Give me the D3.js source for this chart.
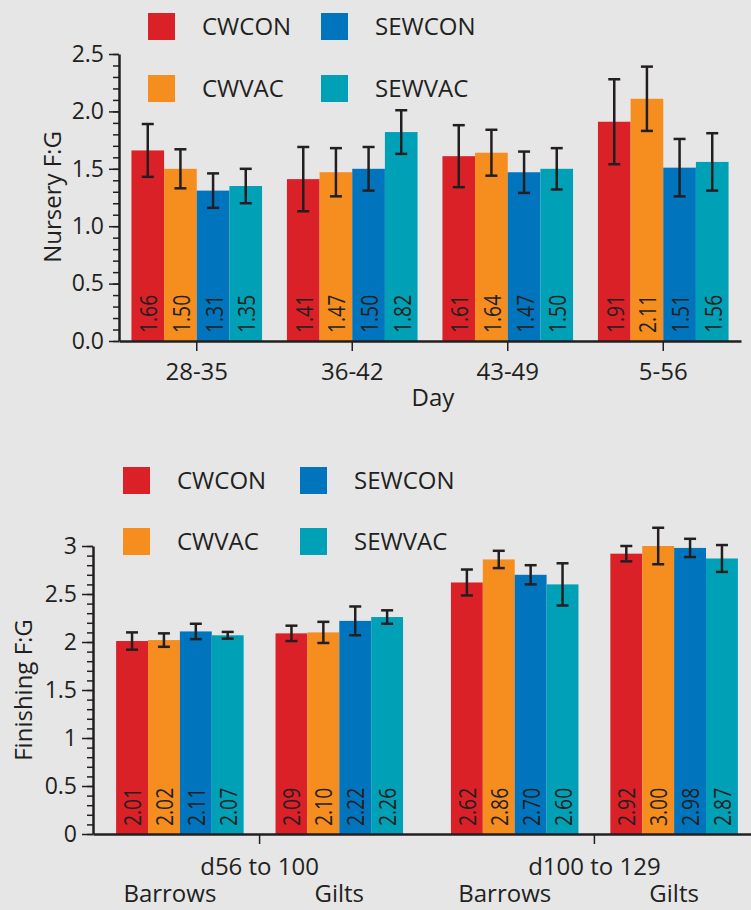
<!DOCTYPE html>
<html lang="en">
<head>
<meta charset="UTF-8">
<title>Nursery and Finishing F:G</title>
<script src="https://d3js.org/d3.v7.min.js"></script>
<style>
  body { margin: 0; background: #e6e6e6; font-family: "Open Sans", sans-serif; }
  svg { display: block; }
  text { fill: #231f20; }
  .axis path, .axis line { stroke: #231f20; }
  .axis .domain { stroke-width: 2.5; }
  .axis .tick line { stroke-width: 1.5; }
  .axis text { font-family: "Open Sans", sans-serif; fill: #231f20; }
</style>
</head>
<body>
<svg width="751" height="910"></svg>
<script>
// series / legend
const seriesNames = ["CWCON", "CWVAC", "SEWCON", "SEWVAC"];
const seriesColors = ["#da2128", "#f68d1f", "#0075be", "#00a1b6"];

// nursery chart (top)
const nurseryDays = ["28-35", "36-42", "43-49", "5-56"];
const nurseryCWCON  = [1.66, 1.41, 1.61, 1.91];
const nurseryCWVAC  = [1.50, 1.47, 1.64, 2.11];
const nurserySEWCON = [1.31, 1.50, 1.47, 1.51];
const nurserySEWVAC = [1.35, 1.82, 1.50, 1.56];
const nurseryErrCWCON  = [0.23, 0.28, 0.27, 0.37];
const nurseryErrCWVAC  = [0.17, 0.21, 0.20, 0.28];
const nurseryErrSEWCON = [0.15, 0.19, 0.18, 0.25];
const nurseryErrSEWVAC = [0.15, 0.19, 0.18, 0.25];
const nurseryTicks = [0, 0.5, 1.0, 1.5, 2.0, 2.5];

// finishing chart (bottom)
const finishPeriods = ["d56 to 100", "d100 to 129"];
const finishSexes = ["Barrows", "Gilts"];
const finishCWCON  = [2.01, 2.09, 2.62, 2.92];
const finishCWVAC  = [2.02, 2.10, 2.86, 3.00];
const finishSEWCON = [2.11, 2.22, 2.70, 2.98];
const finishSEWVAC = [2.07, 2.26, 2.60, 2.87];
const finishErrCWCON  = [0.09, 0.08, 0.135, 0.08];
const finishErrCWVAC  = [0.07, 0.11, 0.09, 0.19];
const finishErrSEWCON = [0.08, 0.15, 0.10, 0.095];
const finishErrSEWVAC = [0.035, 0.07, 0.22, 0.14];
const finishTicks = [0, 0.5, 1, 1.5, 2, 2.5, 3];

const svg = d3.select("svg");
const color = d3.scaleOrdinal().domain(seriesNames).range(seriesColors);

function legend(g, x1, x2, y1, y2) {
  const pos = [[x1, y1], [x1, y2], [x2, y1], [x2, y2]];
  seriesNames.forEach((s, i) => {
    g.append("rect").attr("x", pos[i][0]).attr("y", pos[i][1])
      .attr("width", 27).attr("height", 27).attr("fill", color(s));
    g.append("text").attr("x", pos[i][0] + 54).attr("y", pos[i][1] + 13.5)
      .attr("dy", "0.36em").attr("font-size", 24).text(s);
  });
}

function bars(g, rows, y, labelDx) {
  const base = y(0);
  rows.forEach(r => {
    g.append("rect").attr("x", r.x).attr("y", y(r.v))
      .attr("width", r.w).attr("height", base - y(r.v)).attr("fill", color(r.s));
  });
  rows.forEach(r => {
    const cx = r.x + r.w / 2;
    g.append("line").attr("x1", cx).attr("x2", cx)
      .attr("y1", y(r.v + r.e)).attr("y2", y(r.v - r.e))
      .attr("stroke", "#231f20").attr("stroke-width", 2.5);
    [r.v + r.e, r.v - r.e].forEach(t => {
      g.append("line").attr("x1", cx - 6).attr("x2", cx + 6)
        .attr("y1", y(t)).attr("y2", y(t))
        .attr("stroke", "#231f20").attr("stroke-width", 2.5);
    });
    // value label, rotated, a bit condensed
    g.append("text")
      .attr("transform", `translate(${cx + labelDx},${base - 8}) rotate(-90) scale(0.84,1)`)
      .attr("font-size", 23).text(r.v.toFixed(2));
  });
}

// ---------- top chart ----------
{
  const g = svg.append("g");
  legend(g, 148, 321, 13, 75);

  const y = d3.scaleLinear().domain([0, 2.5]).range([341, 54]);
  const x0 = d3.scaleBand().domain(nurseryDays).range([119, 741])
    .paddingInner(0.16).paddingOuter(0.08);
  const x1 = d3.scaleBand().domain(seriesNames).range([0, x0.bandwidth()]);

  const vals = [nurseryCWCON, nurseryCWVAC, nurserySEWCON, nurserySEWVAC];
  const errs = [nurseryErrCWCON, nurseryErrCWVAC, nurseryErrSEWCON, nurseryErrSEWVAC];
  const rows = [];
  nurseryDays.forEach((d, i) => seriesNames.forEach((s, j) => {
    rows.push({ s, v: vals[j][i], e: errs[j][i], x: x0(d) + x1(s), w: x1.bandwidth() });
  }));
  bars(g, rows, y, 9.5);

  // y axis minor + major
  g.append("g").attr("class", "axis").attr("transform", "translate(119,0)")
    .call(d3.axisLeft(y).tickValues(d3.range(0, 26).map(i => i / 10)).tickSize(6).tickFormat(""))
    .call(a => a.select(".domain").remove());
  g.append("g").attr("class", "axis").attr("transform", "translate(119,0)")
    .call(d3.axisLeft(y).tickValues(nurseryTicks).tickSize(10).tickSizeOuter(0)
      .tickPadding(5).tickFormat(d3.format(".1f")))
    .call(a => a.selectAll("text").attr("font-size", 23));

  g.append("g").attr("class", "axis").attr("transform", "translate(0,341)")
    .call(d3.axisBottom(x0).tickSize(10).tickSizeOuter(0).tickPadding(12))
    .call(a => a.selectAll(".tick line").attr("stroke", "#555"))
    .call(a => a.selectAll("text").attr("font-size", 24));

  g.append("text").attr("x", 433).attr("y", 406).attr("text-anchor", "middle")
    .attr("font-size", 24).text("Day");
  g.append("text").attr("transform", "translate(61,197) rotate(-90)")
    .attr("text-anchor", "middle").attr("font-size", 24).text("Nursery F:G");
}

// ---------- bottom chart ----------
{
  const g = svg.append("g");
  legend(g, 123, 300, 467, 528);

  const y = d3.scaleLinear().domain([0, 3]).range([834, 546]);
  const xP = d3.scaleBand().domain(finishPeriods).range([93, 761])
    .paddingInner(0.143).paddingOuter(0.069);
  const xS = d3.scaleBand().domain(finishSexes).range([0, xP.bandwidth()])
    .paddingInner(0.2);
  const xT = d3.scaleBand().domain(seriesNames).range([0, xS.bandwidth()]);

  const vals = [finishCWCON, finishCWVAC, finishSEWCON, finishSEWVAC];
  const errs = [finishErrCWCON, finishErrCWVAC, finishErrSEWCON, finishErrSEWVAC];
  const rows = [];
  finishPeriods.forEach((p, pi) => finishSexes.forEach((sx, si) => {
    const k = pi * 2 + si;
    seriesNames.forEach((s, j) => {
      rows.push({ s, v: vals[j][k], e: errs[j][k], x: xP(p) + xS(sx) + xT(s), w: xT.bandwidth() });
    });
  }));
  bars(g, rows, y, 9);

  g.append("g").attr("class", "axis").attr("transform", "translate(93,0)")
    .call(d3.axisLeft(y).tickValues(d3.range(0, 31).map(i => i / 10)).tickSize(6).tickFormat(""))
    .call(a => a.select(".domain").remove());
  g.append("g").attr("class", "axis").attr("transform", "translate(93,0)")
    .call(d3.axisLeft(y).tickValues(finishTicks).tickSize(11).tickSizeOuter(0)
      .tickPadding(5).tickFormat(d => String(d)))
    .call(a => a.selectAll("text").attr("font-size", 23));

  g.append("g").attr("class", "axis").attr("transform", "translate(0,834)")
    .call(d3.axisBottom(xP).tickSize(10).tickSizeOuter(0).tickPadding(14))
    .call(a => a.selectAll(".tick line").attr("stroke", "#555"))
    .call(a => a.selectAll("text").attr("font-size", 24));

  finishPeriods.forEach(p => finishSexes.forEach(sx => {
    g.append("text").attr("x", xP(p) + xS(sx) + xS.bandwidth() / 2)
      .attr("dx", sx === "Barrows" ? -10 : 0).attr("y", 902)
      .attr("text-anchor", "middle").attr("font-size", 24).text(sx);
  }));

  g.append("text").attr("transform", "translate(32,690) rotate(-90)")
    .attr("text-anchor", "middle").attr("font-size", 24).text("Finishing F:G");
}
</script>
</body>
</html>
